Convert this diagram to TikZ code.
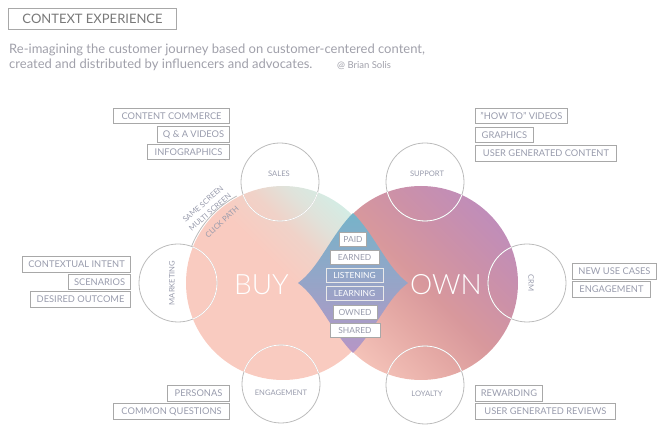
\documentclass[tikz,border=0pt]{standalone}
\usepackage{fontspec}
\setmainfont{Lato}
\newfontfamily\thinfont{Lato Light}
\usetikzlibrary{calc}
\definecolor{buyP}{RGB}{249,203,192}
\definecolor{buyB}{RGB}{240,210,200}
\definecolor{buyG}{RGB}{224,226,218}
\definecolor{buyM}{RGB}{212,236,228}
\definecolor{ownL}{RGB}{244,194,184}
\definecolor{ownA}{RGB}{228,168,164}
\definecolor{ownC}{RGB}{216,152,156}
\definecolor{ownD}{RGB}{204,145,168}
\definecolor{ownU}{RGB}{192,141,185}
\definecolor{diaT}{RGB}{118,179,201}
\definecolor{diaB}{RGB}{182,150,198}
\definecolor{labtxt}{RGB}{152,155,172}
\definecolor{boxgray}{RGB}{168,168,168}
\definecolor{cirgray}{RGB}{188,188,188}
\definecolor{titletxt}{RGB}{120,120,120}
\definecolor{subtxt}{RGB}{160,160,170}
\pgfdeclareverticalshading{buygrad}{100bp}{color(0bp)=(buyP); color(52bp)=(buyP); color(61bp)=(buyB); color(68bp)=(buyG); color(75bp)=(buyM); color(100bp)=(buyM)}
\pgfdeclareverticalshading{owngrad}{100bp}{color(0bp)=(ownL); color(25bp)=(ownL); color(40bp)=(ownA); color(50bp)=(ownC); color(62bp)=(ownD); color(75bp)=(ownU); color(100bp)=(ownU)}
\begin{document}
\begin{tikzpicture}[x=1pt,y=-1pt,
  lab/.style={draw=boxgray, line width=0.9pt, text=labtxt, font=\fontsize{9.3}{11}\selectfont,
    inner xsep=2pt, inner ysep=0pt, minimum height=15.5pt, text height=6.8pt, text depth=0pt},
  lableft/.style={lab, anchor=east},
  labright/.style={lab, anchor=west},
  mid/.style={draw=boxgray, line width=0.9pt, fill=white, text=labtxt, font=\fontsize{8.4}{10}\selectfont,
    inner xsep=2pt, inner ysep=0pt, minimum height=14pt, text height=6.2pt, text depth=0pt},
  midclear/.style={mid, fill=none, draw=white!75!boxgray, text=white},
  cirtxt/.style={text=labtxt, font=\fontsize{7.6}{9}\selectfont, inner sep=0pt},
  smallc/.style={draw=cirgray, line width=0.8pt},
  bigtxt/.style={text=white, font=\thinfont\fontsize{28}{30}\selectfont, inner sep=0pt, anchor=base}
]
\useasboundingbox (0,0) rectangle (667,435);
% title
\node[draw=boxgray, line width=1.1pt, text=titletxt, font=\fontsize{13}{15}\selectfont,
  anchor=north west, minimum width=168pt, minimum height=21pt, inner xsep=5pt, text height=9.5pt, text depth=0pt] (title) at (8,8) {CONTEXT EXPERIENCE};
\node[anchor=base west, inner sep=0pt, text=subtxt, font=\fontsize{13}{15}\selectfont] (sub1) at (9,54) {Re-imagining the customer journey based on customer-centered content,};
\node[anchor=base west, inner sep=0pt, text=subtxt, font=\fontsize{13}{15}\selectfont] (sub2) at (9,69) {created and distributed by influencers and advocates.};
\node[anchor=base west, inner sep=0pt, text=subtxt, font=\fontsize{9.5}{11}\selectfont] (author) at (337,69) {@ Brian Solis};
% big circles
\coordinate (buyc) at (283,283);
\coordinate (ownc) at (421,283);
\shade[shading=buygrad, shading angle=-45] (buyc) circle[radius=97pt];
\begin{scope}
  \clip (352,0) rectangle (667,435);
  \shade[shading=owngrad, shading angle=-45] (ownc) circle[radius=97pt];
\end{scope}
% diamond
\coordinate (dT) at (353,213);
\coordinate (dL) at (298,283);
\coordinate (dB) at (353,353);
\coordinate (dR) at (408,283);
\shade[top color=diaT, bottom color=diaB]
  (dT) .. controls (331,235) and (319,268) .. (dL)
  .. controls (319,298) and (331,331) .. (dB)
  .. controls (375,331) and (387,298) .. (dR)
  .. controls (387,268) and (375,235) .. (dT) -- cycle;
% big words
\node[bigtxt] (buy) at (261.5,295) {BUY};
\node[bigtxt] (own) at (446,295) {OWN};
% small circles
\coordinate (sales) at (280,182);
\coordinate (support) at (425,182);
\coordinate (marketing) at (178,283);
\coordinate (crm) at (527,283);
\coordinate (engage) at (281,384);
\coordinate (loyalty) at (425,385);
\foreach \c in {sales,support,marketing,crm,engage,loyalty}
  \draw[smallc] (\c) circle[radius=39pt];
\begin{scope}
  \clip (buyc) circle[radius=97pt] (ownc) circle[radius=97pt];
  \foreach \c in {sales,support,marketing,crm,engage,loyalty}
    \draw[smallc, draw=white] (\c) circle[radius=39pt];
\end{scope}
\node[cirtxt] (tsales) at (279,174) {SALES};
\node[cirtxt] (tsupport) at (427,174) {SUPPORT};
\node[cirtxt, rotate=90] (tmarketing) at (172,283) {MARKETING};
\node[cirtxt, rotate=-90] (tcrm) at (531,283) {CRM};
\node[cirtxt] (tengage) at (281,393) {ENGAGEMENT};
\node[cirtxt] (tloyalty) at (427,394) {LOYALTY};
% arc and path texts
\draw[cirgray, line width=0.8pt] ($(buyc)+(118:98.5pt)$) arc[start angle=118, end angle=158, radius=98.5pt];
\node[cirtxt, rotate=41] (same) at (203,204) {SAME SCREEN};
\node[cirtxt, rotate=41] (multi) at (210,212) {MULTI SCREEN};
\node[cirtxt, rotate=43] (click) at (222,222) {CLICK PATH};
% center boxes
\node[mid, minimum width=27pt] (paid) at (353,239) {PAID};
\node[mid, minimum width=49pt] (earned) at (354.5,257) {EARNED};
\node[midclear, minimum width=57pt] (listening) at (354.5,275) {LISTENING};
\node[midclear, minimum width=57pt] (learning) at (354.5,293) {LEARNING};
\node[mid, minimum width=44pt] (owned) at (355,312) {OWNED};
\node[mid, minimum width=50pt] (shared) at (355,330) {SHARED};
% left labels
\node[lableft, minimum width=116pt] (cc) at (230,116) {CONTENT COMMERCE};
\node[lableft, minimum width=72pt] (qa) at (230,134.5) {Q \& A VIDEOS};
\node[lableft, minimum width=82pt] (info) at (230,152) {INFOGRAPHICS};
\node[lableft, minimum width=108pt] (ci) at (131,264.5) {CONTEXTUAL INTENT};
\node[lableft, minimum width=62pt] (scen) at (131,282) {SCENARIOS};
\node[lableft, minimum width=100pt] (des) at (131,299.5) {DESIRED OUTCOME};
\node[lableft, minimum width=62pt] (pers) at (230,393.5) {PERSONAS};
\node[lableft, minimum width=116pt] (cq) at (230,411.5) {COMMON QUESTIONS};
% right labels
\node[labright, minimum width=92pt] (how) at (475,116) {"HOW TO" VIDEOS};
\node[labright, minimum width=58pt] (graph) at (475,135) {GRAPHICS};
\node[labright, minimum width=141pt] (ugc) at (475,153.5) {USER GENERATED CONTENT};
\node[labright, minimum width=84pt] (nuc) at (572,271.5) {NEW USE CASES};
\node[labright, minimum width=78pt] (eng) at (572,289.5) {ENGAGEMENT};
\node[labright, minimum width=67pt] (rew) at (475,393.5) {REWARDING};
\node[labright, minimum width=140pt] (ugr) at (475,411.5) {USER GENERATED REVIEWS};
\end{tikzpicture}
\end{document}
